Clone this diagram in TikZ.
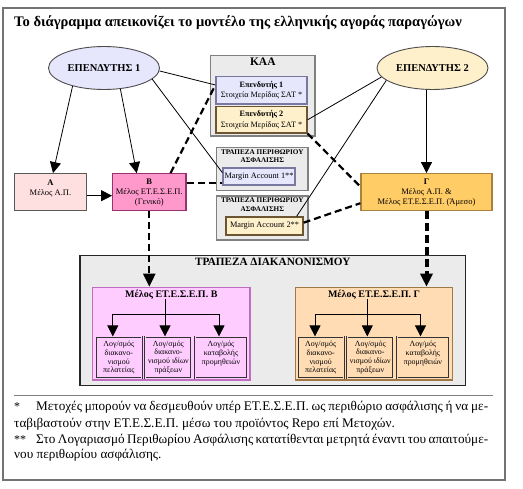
\documentclass[tikz,border=0pt]{standalone}
\usepackage{fontspec}
\setmainfont{Liberation Serif}
\usepackage{xcolor}
\usepackage{tikz}
\usetikzlibrary{positioning, shapes.geometric, arrows.meta}

\definecolor{invone}{RGB}{230,230,252}
\definecolor{invtwo}{RGB}{255,240,204}
\definecolor{memA}{RGB}{255,224,224}
\definecolor{memB}{RGB}{255,153,204}
\definecolor{memG}{RGB}{255,204,102}
\definecolor{setB}{RGB}{255,204,255}
\definecolor{setG}{RGB}{255,220,180}
\definecolor{bankgray}{RGB}{235,235,235}
\definecolor{lineB}{RGB}{150,50,110}
\definecolor{lineG}{RGB}{170,130,60}
\definecolor{lineone}{RGB}{120,120,160}
\definecolor{linetwo}{RGB}{110,85,50}
\definecolor{linesetB}{RGB}{190,110,190}
\definecolor{linesetG}{RGB}{160,120,70}

\begin{document}
\begin{tikzpicture}[x=1pt, y=-1pt]

\tikzstyle{every node}=[font=\fontsize{8.5}{10}\selectfont, inner sep=0pt, align=center]
\tikzstyle{investor}=[ellipse, draw=black!70, line width=0.9, minimum width=111pt, minimum height=43pt, font=\fontsize{10.5}{12}\selectfont\bfseries]
\tikzstyle{member}=[rectangle, line width=1.2, minimum height=37pt]
\tikzstyle{bank}=[rectangle, fill=bankgray, draw=black!50, line width=1.3]
\tikzstyle{account}=[rectangle, line width=1.2, font=\fontsize{8.2}{10.5}\selectfont]
\tikzstyle{setbox}=[rectangle, line width=1.3, minimum width=157.3pt, minimum height=92.7pt]
\tikzstyle{subacc}=[rectangle, draw=black!80, line width=0.6, double distance=0.8pt, minimum height=41.6pt, font=\fontsize{7.9}{8.9}\selectfont]
\tikzstyle{link}=[line width=0.8]
\tikzstyle{dlink}=[line width=2.2, dash pattern=on 7pt off 4pt]
\tikzstyle{arr}=[-{Triangle[length=11pt, width=11pt]}]

\useasboundingbox (0,0) rectangle (523,489);

% frame and title %
\draw[black!55, line width=1.3] (3,8) rectangle (505,480);
\node[anchor=west, font=\fontsize{14.6}{17}\selectfont\bfseries] (title) at (14,23) {Το διάγραμμα απεικονίζει το μοντέλο της ελληνικής αγοράς παραγώγων};

% investors %
\node[investor, fill=invone] (e1) at (104,68) {ΕΠΕΝΔΥΤΗΣ 1};
\node[investor, fill=invtwo] (e2) at (432.5,68) {ΕΠΕΝΔΥΤΗΣ 2};

% KAA %
\node[bank, minimum width=104.3pt, minimum height=80.3pt] (kaa) at (262.8,95.8) {};
\node[below=3pt of kaa.north, font=\fontsize{11.5}{13}\selectfont\bfseries] (tkaa) {ΚΑΑ};
\node[account, fill=invone, draw=lineone, minimum width=91pt, minimum height=27.3pt] (inv1) at (261.5,90.3) {\textbf{Επενδυτής 1}\\Στοιχεία Μερίδας ΣΑΤ *};
\node[account, fill=invtwo, draw=linetwo, minimum width=91pt, minimum height=26.3pt] (inv2) at (261.5,119.8) {\textbf{Επενδυτής 2}\\Στοιχεία Μερίδας ΣΑΤ *};

% margin banks %
\node[bank, minimum width=91.3pt, minimum height=43pt] (mb1) at (262.3,169.2) {};
\node[below=2pt of mb1.north, font=\fontsize{7.2}{8.7}\selectfont\bfseries] (tmb1) {ΤΡΑΠΕΖΑ ΠΕΡΙΘΩΡΙΟΥ\\ΑΣΦΑΛΙΣΗΣ};
\node[account, fill=invone, draw=lineone, minimum width=72pt, minimum height=17pt, font=\fontsize{8.3}{10}\selectfont] (ma1) at (259,176.5) {Margin Account 1**};
\node[bank, minimum width=91.3pt, minimum height=44pt] (mb2) at (262.3,218) {};
\node[below=2pt of mb2.north, font=\fontsize{7.2}{8.7}\selectfont\bfseries] (tmb2) {ΤΡΑΠΕΖΑ ΠΕΡΙΘΩΡΙΟΥ\\ΑΣΦΑΛΙΣΗΣ};
\node[account, fill=invtwo, draw=linetwo, minimum width=77pt, minimum height=18pt, font=\fontsize{8.3}{10}\selectfont] (ma2) at (264.5,226) {Margin Account 2**};

% members %
\node[member, fill=memA, draw=black!65, minimum width=72.4pt] (A) at (50.5,192.2) {\textbf{Α}\\Μέλος Α.Π.\\\mbox{}};
\node[member, fill=memB, draw=lineB, minimum width=73.3pt] (B) at (149.3,192.2) {\textbf{Β}\\Μέλος ΕΤ.Ε.Σ.Ε.Π.\\(Γενικό)};
\node[member, fill=memG, draw=lineG, minimum width=131pt] (G) at (426.5,192.2) {\textbf{Γ}\\Μέλος Α.Π. \&\\Μέλος ΕΤ.Ε.Σ.Ε.Π. (Άμεσο)};

% settlement bank %
\node[bank, draw=black!85, line width=1.1, minimum width=385.7pt, minimum height=130pt] (sbank) at (272.8,320.7) {};
\node[below=3pt of sbank.north, font=\fontsize{11.2}{13}\selectfont\bfseries] (tsbank) {ΤΡΑΠΕΖΑ ΔΙΑΚΑΝΟΝΙΣΜΟΥ};

\node[setbox, fill=setB, draw=linesetB] (mB) at (171.3,333.7) {};
\node[below=3pt of mB.north, font=\fontsize{10}{11}\selectfont\bfseries] (tmB) {Μέλος ΕΤ.Ε.Σ.Ε.Π. Β};
\node[subacc, fill=setB, double=setB, minimum width=46pt] (sB1) at (118.8,357.5) {Λογ/σμός\\διακανο-\\νισμού\\πελατείας};
\node[subacc, fill=setB, double=setB, minimum width=46pt, right=3pt of sB1] (sB2) {Λογ/σμός\\διακανο-\\νισμού ιδίων\\πράξεων};
\node[subacc, fill=setB, double=setB, minimum width=52pt, right=3pt of sB2] (sB3) {Λογ/μός\\καταβολής\\προμηθειών\\\mbox{}};

\node[setbox, fill=setG, draw=linesetG] (mG) at (374,333.7) {};
\node[below=3pt of mG.north, font=\fontsize{10}{11}\selectfont\bfseries] (tmG) {Μέλος ΕΤ.Ε.Σ.Ε.Π. Γ};
\node[subacc, fill=setG, double=setG, minimum width=46pt] (sG1) at (320.7,357.5) {Λογ/σμός\\διακανο-\\νισμού\\πελατείας};
\node[subacc, fill=setG, double=setG, minimum width=46pt, right=3pt of sG1] (sG2) {Λογ/σμός\\διακανο-\\νισμού ιδίων\\πράξεων};
\node[subacc, fill=setG, double=setG, minimum width=52pt, right=3pt of sG2] (sG3) {Λογ/μός\\καταβολής\\προμηθειών\\\mbox{}};

\coordinate (jB) at (165,314);
\coordinate (jG) at (367.3,314);

% edges %
\draw[link, arr] (e1.210) -- ([xshift=2.5pt]A.north);
\draw[link, arr] (e1.308) -- ([xshift=-12.6pt]B.north);
\draw[link] (e1.-3) -- ([yshift=5.3pt]inv1.west);
\draw[link] (e1.-13) -- ([yshift=3.8pt]ma1.west);
\draw[link, arr] ([yshift=-3.5pt]A.east) -- ([yshift=-3.5pt]B.west);
\draw[dlink] ([xshift=-16pt]B.north east) -- ([yshift=5.3pt]inv1.west);
\draw[dlink] ([yshift=9.5pt]B.east) -- ([yshift=-6.2pt]ma1.west);
\draw[dlink, -{Triangle[length=13pt, width=12pt]}] (B.south) -- (B.south |- mB.north);

\draw[link] (e2.190) -- (inv2.east);
\draw[link] (e2.195) -- ([xshift=-7pt]ma2.north east);
\draw[link, arr] (G.north |- e2.south) -- (G.north);
\draw[dlink] (inv2.south east) -- ([yshift=5.5pt]G.west);
\draw[dlink] ([yshift=3.3pt]ma2.east) -- ([yshift=-11pt]G.west);
\draw[line width=4, dash pattern=on 8pt off 4pt, -{Triangle[length=13pt, width=12pt]}] (G.south) -- (G.south |- mG.north);

\draw[link] (jB |- tmB.south) -- (jB);
\draw[link, arr] (jB) -| ([xshift=-6pt]sB1.north);
\draw[link, arr] (jB) -- (jB |- sB2.north);
\draw[link, arr] (jB) -| ([xshift=-2pt]sB3.north);
\draw[link] (jG |- tmG.south) -- (jG);
\draw[link, arr] (jG) -| ([xshift=-5.7pt]sG1.north);
\draw[link, arr] (jG) -- (jG |- sG2.north);
\draw[link, arr] (jG) -| ([xshift=-2.4pt]sG3.north);

% notes %
\draw[black!50, line width=1.6] (14.3,395.7) -- (493.3,395.7);
\node[anchor=base west, font=\fontsize{12}{14}\selectfont] (st1) at (14,411) {*};
\node[anchor=base west, font=\fontsize{13.2}{16}\selectfont] (fn1) at (36,411) {\makebox[452pt][s]{Μετοχές μπορούν να δεσμευθούν υπέρ ΕΤ.Ε.Σ.Ε.Π. ως περιθώριο ασφάλισης ή να με-}};
\node[anchor=base west, font=\fontsize{13.2}{16}\selectfont] (fn2) at (14,427.5) {ταβιβαστούν στην ΕΤ.Ε.Σ.Ε.Π. μέσω του προϊόντος Repo επί Μετοχών.};
\node[anchor=base west, font=\fontsize{12}{14}\selectfont] (st2) at (14,444) {**};
\node[anchor=base west, font=\fontsize{13.2}{16}\selectfont] (fn3) at (36,444) {\makebox[452pt][s]{Στο Λογαριασμό Περιθωρίου Ασφάλισης κατατίθενται μετρητά έναντι του απαιτούμε-}};
\node[anchor=base west, font=\fontsize{13.2}{16}\selectfont] (fn4) at (14,459) {νου περιθωρίου ασφάλισης.};

\end{tikzpicture}
\end{document}
